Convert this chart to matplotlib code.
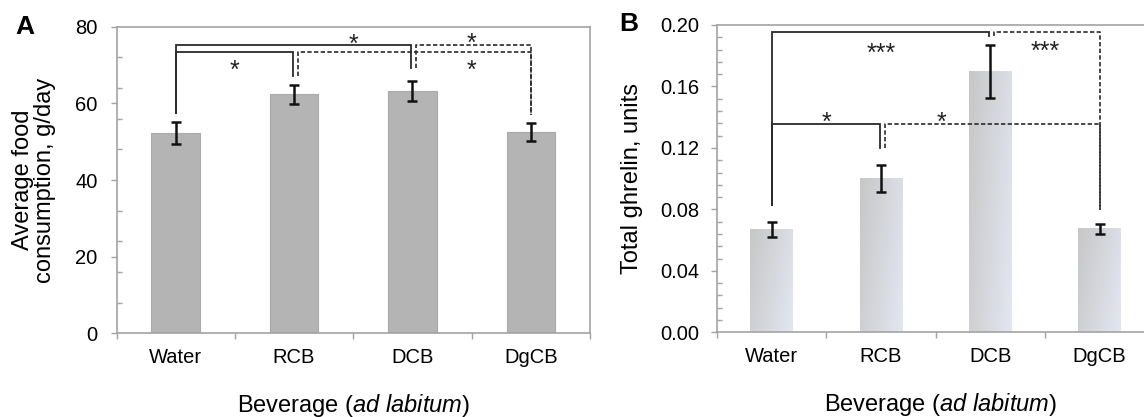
import numpy as np
import matplotlib
matplotlib.use("Agg")
import matplotlib.pyplot as plt
from matplotlib.transforms import offset_copy

plt.rcParams['font.family'] = ['Liberation Sans', 'DejaVu Sans']
plt.rcParams['mathtext.fontset'] = 'custom'
plt.rcParams['mathtext.rm'] = 'Liberation Sans'
plt.rcParams['mathtext.it'] = 'Liberation Sans:italic'

# ---------------- data ----------------
categories = ['Water', 'RCB', 'DCB', 'DgCB']

food_mean = [52.2, 62.4, 63.3, 52.5]
food_err = [2.85, 2.5, 2.6, 2.4]

ghrelin_mean = [0.0670, 0.1002, 0.1696, 0.0672]
ghrelin_err = [0.0049, 0.0087, 0.0171, 0.0031]

food_yticks = [0, 20, 40, 60, 80]
food_yticklabels = ['0', '20', '40', '60', '80']
ghrelin_yticks = [0.0, 0.04, 0.08, 0.12, 0.16, 0.20]
ghrelin_yticklabels = ['0.00', '0.04', '0.08', '0.12', '0.16', '0.20']

# significance brackets: (from, to, y_start, y_top, y_end, linestyle)
food_brackets = [(0, 2, 57.6, 75.2, 69.1, '-'),
                 (0, 1, 57.6, 73.5, 67.1, '-'),
                 (1, 3, 67.1, 73.3, 57.0, '--'),
                 (2, 3, 69.1, 75.2, 57.0, '--')]
food_stars = [(1.5, 77.1, '*'), (0.5, 70.5, '*'), (2.5, 77.4, '*'), (2.5, 70.5, '*')]

ghrelin_brackets = [(0, 2, 0.0829, 0.1956, 0.1928, '-'),
                    (2, 3, 0.1928, 0.1956, 0.0796, '--'),
                    (0, 1, 0.0829, 0.1354, 0.1201, '-'),
                    (1, 3, 0.1201, 0.1354, 0.0796, '--')]
ghrelin_stars = [(1.0, 0.1859, '***'), (2.5, 0.1875, '***'),
                 (0.5, 0.1414, '*'), (1.55, 0.1414, '*')]

# ---------------- figure ----------------
W, H = 1144, 417
fig = plt.figure(figsize=(W / 100, H / 100), dpi=100)
axA = fig.add_axes([116.5 / W, 83.7 / H, 473.5 / W, 306.6 / H])
axB = fig.add_axes([717 / W, 84.7 / H, 427 / W, 307.3 / H])

spine_col = '#a3a3a3'
line_col = '#2a2a2a'
x = np.arange(len(categories))


def style_axes(ax, yticks, yticklabels, yminor, xminor, ypad):
    for s in ax.spines.values():
        s.set_color(spine_col)
        s.set_linewidth(1.2)
    ax.set_yticks(yticks)
    ax.set_yticklabels(yticklabels)
    ax.set_yticks(yminor, minor=True)
    ax.set_xticks(x)
    ax.set_xticklabels(categories)
    ax.set_xticks(xminor, minor=True)
    ax.tick_params(axis='y', which='major', direction='out', length=4.5,
                   color=spine_col, width=1, labelsize=14.5, pad=ypad)
    ax.tick_params(axis='y', which='minor', direction='in', length=3.5,
                   color=spine_col, width=1)
    ax.tick_params(axis='x', which='major', length=0, labelsize=14.5, pad=10.5)
    ax.tick_params(axis='x', which='minor', direction='out', length=4,
                   color=spine_col, width=1)


def draw_brackets(ax, brackets, stars, star_off_pts):
    for (i, j, y1, yt, y2, ls) in brackets:
        if ls == '-':
            xi, xj = x[i], x[j] - 0.012
            ax.plot([xi, xi, xj, xj], [y1, yt, yt, y2], color=line_col,
                    lw=1.3, solid_joinstyle='miter', zorder=4)
        else:
            xi, xj = x[i] + 0.033, x[j]
            ax.plot([xi, xi, xj, xj], [y1, yt, yt, y2], color=line_col,
                    lw=1.2, dashes=(2.6, 1.4), zorder=4)
    tr = offset_copy(ax.transData, fig=fig, y=-star_off_pts, units='points')
    for (sx, sy, s) in stars:
        ax.text(sx, sy, s, transform=tr, ha='center', va='baseline',
                fontsize=18, color='#222222', zorder=5)


# ---------------- panel A ----------------
axA.bar(x, food_mean, width=0.41, color='#b4b4b4', edgecolor='#a9a9a9',
        linewidth=0.8, zorder=2)
axA.errorbar(x, food_mean, yerr=food_err, fmt='none', ecolor='#111111',
             elinewidth=1.8, capsize=3.5, capthick=1.8, zorder=3)
style_axes(axA, food_yticks, food_yticklabels, np.arange(0, 81, 8),
           [-0.5, 0.5, 1.5, 2.5, 3.5], 9)
axA.set_xlim(-0.5, 3.5)
axA.set_ylim(0, 80)
draw_brackets(axA, food_brackets, food_stars, 0.58 * 18)
axA.text(-0.174, 0.5, 'Average food\nconsumption, g/day', transform=axA.transAxes,
         rotation=90, ha='center', va='center', fontsize=17,
         multialignment='center', linespacing=1.0)
axA.text(0.5, -0.235, 'Beverage ($\\it{ad\\ labitum}$)', transform=axA.transAxes,
         ha='center', va='center', fontsize=17)
fig.text(25 / W, 1 - 27.5 / H, 'A', fontsize=19, fontweight='bold',
         ha='center', va='center')

# ---------------- panel B ----------------
bw = 0.39
bars = axB.bar(x, ghrelin_mean, width=bw, color='none', edgecolor='none', zorder=2)
c0 = np.array([0.78, 0.78, 0.78])
c1 = np.array([0.89, 0.905, 0.945])
gx = np.linspace(0, 1, 40)[None, :]
gy = np.linspace(0, 1, 80)[:, None]
t = np.clip(0.72 * gx + 0.28 * gy, 0, 1)
grad = c0[None, None, :] * (1 - t[..., None]) + c1[None, None, :] * t[..., None]
for xi, h in zip(x, ghrelin_mean):
    axB.imshow(grad, extent=[xi - bw / 2, xi + bw / 2, 0, h], origin='upper',
               aspect='auto', interpolation='bilinear', zorder=2)
axB.errorbar(x, ghrelin_mean, yerr=ghrelin_err, fmt='none', ecolor='#111111',
             elinewidth=1.8, capsize=3.5, capthick=1.8, zorder=3)
style_axes(axB, ghrelin_yticks, ghrelin_yticklabels, np.arange(0, 0.2001, 0.008),
           [-0.5, 0.5, 1.5, 2.5], 8)
axB.spines['right'].set_visible(False)
axB.set_xlim(-0.5, 3.406)
axB.set_ylim(0, 0.2)
draw_brackets(axB, ghrelin_brackets, ghrelin_stars, 0.58 * 18)
axB.text(-0.2, 0.5, 'Total ghrelin, units', transform=axB.transAxes,
         rotation=90, ha='center', va='center', fontsize=17)
axB.text(0.524, -0.235, 'Beverage ($\\it{ad\\ labitum}$)', transform=axB.transAxes,
         ha='center', va='center', fontsize=17)
fig.text(629 / W, 1 - 24 / H, 'B', fontsize=19, fontweight='bold',
         ha='center', va='center')

fig.savefig('out.png', dpi=100)
